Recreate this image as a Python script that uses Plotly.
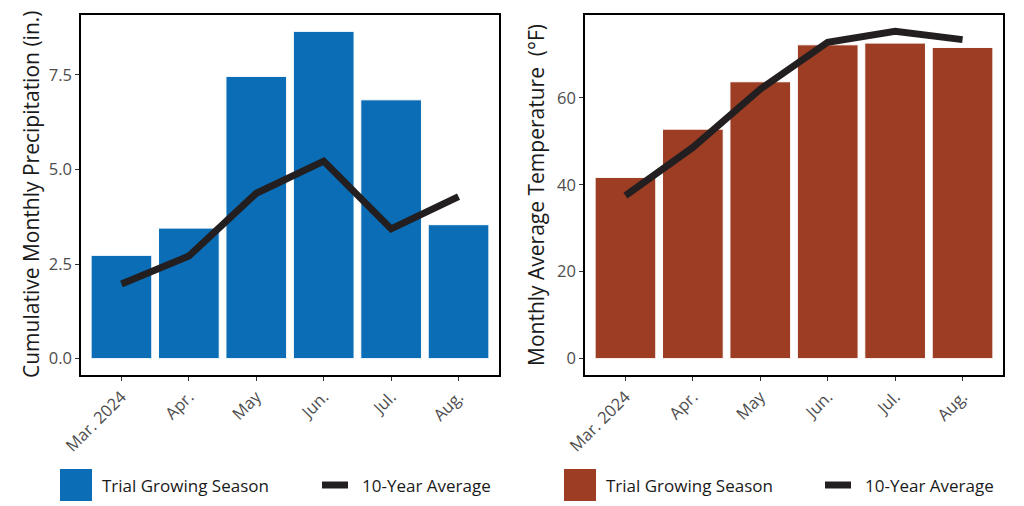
import plotly.graph_objects as go

months = ["Mar. 2024", "Apr.", "May", "Jun.", "Jul.", "Aug."]
precip_trial = [2.73, 3.45, 7.46, 8.65, 6.84, 3.54]
precip_avg = [1.97, 2.71, 4.37, 5.22, 3.43, 4.28]
temp_trial = [41.7, 52.8, 63.7, 72.2, 72.6, 71.6]
temp_avg = [37.5, 48.6, 62.0, 72.8, 75.3, 73.4]

precip_ticks = [0.0, 2.5, 5.0, 7.5]
precip_ticktext = ["0.0", "2.5", "5.0", "7.5"]
temp_ticks = [0, 20, 40, 60]

BLUE = "#0a6db5"
RED = "#9c3d24"
LINE = "#231f20"
FONT = "Open Sans"

fig = go.Figure()

fig.add_trace(go.Bar(x=months, y=precip_trial, marker=dict(color=BLUE, line=dict(color="white", width=1)),
                     xaxis="x", yaxis="y", showlegend=False, name="Trial Growing Season"))
fig.add_trace(go.Scatter(x=months, y=precip_avg, mode="lines", line=dict(color=LINE, width=7),
                         xaxis="x", yaxis="y", showlegend=False, name="10-Year Average"))
fig.add_trace(go.Bar(x=months, y=temp_trial, marker=dict(color=RED, line=dict(color="white", width=1)),
                     xaxis="x2", yaxis="y2", showlegend=False, name="Trial Growing Season"))
fig.add_trace(go.Scatter(x=months, y=temp_avg, mode="lines", line=dict(color=LINE, width=7),
                         xaxis="x2", yaxis="y2", showlegend=False, name="10-Year Average"))

ydom = [(506 - 375) / 506, (506 - 15) / 506]
axis_common = dict(showline=True, linecolor="black", linewidth=1.5, mirror=True, ticks="outside",
                   ticklen=4, tickcolor="#333333", tickwidth=1, showgrid=False, zeroline=False,
                   automargin=False,
                   tickfont=dict(family=FONT, size=16.5, color="#4d4d4d"))

pmax = max(max(precip_trial), max(precip_avg))
tmax = max(max(temp_trial), max(temp_avg))

fig.update_layout(
    width=1024, height=506, margin=dict(l=0, r=0, t=0, b=0),
    paper_bgcolor="white", plot_bgcolor="white",
    bargap=0.1,
    font=dict(family=FONT),
    xaxis=dict(domain=[81 / 1024, 499 / 1024], anchor="y", range=[-0.6, 5.6], tickangle=-45, **axis_common),
    yaxis=dict(domain=ydom, anchor="x", range=[-0.05 * pmax, 1.05 * pmax], tickvals=precip_ticks,
               ticktext=precip_ticktext, **axis_common),
    xaxis2=dict(domain=[585 / 1024, 1003 / 1024], anchor="y2", range=[-0.6, 5.6], tickangle=-45, **axis_common),
    yaxis2=dict(domain=ydom, anchor="x2", range=[-0.05 * tmax, 1.05 * tmax], tickvals=temp_ticks, **axis_common),
)

ycenter = (ydom[0] + ydom[1]) / 2
fig.add_annotation(text="Cumulative Monthly Precipitation (in.)", textangle=-90, x=31 / 1024, y=ycenter,
                   xref="paper", yref="paper", showarrow=False, xanchor="center", yanchor="middle",
                   font=dict(family=FONT, size=21, color="#1a1a1a"))
fig.add_annotation(text="Monthly Average Temperature  (°F)", textangle=-90, x=536 / 1024, y=ycenter,
                   xref="paper", yref="paper", showarrow=False, xanchor="center", yanchor="middle",
                   font=dict(family=FONT, size=21, color="#1a1a1a"))

# Legends (drawn manually to match legend key sizes)
def legend(x_sq, color, x_txt1, x_line, x_txt2):
    fig.add_shape(type="rect", xref="paper", yref="paper", x0=x_sq / 1024, x1=(x_sq + 32) / 1024,
                  y0=(506 - 501) / 506, y1=(506 - 469) / 506, fillcolor=color, line=dict(width=0))
    fig.add_annotation(text="Trial Growing Season", x=x_txt1 / 1024, y=(506 - 485) / 506, xref="paper", yref="paper",
                       showarrow=False, xanchor="left", yanchor="middle",
                       font=dict(family=FONT, size=17, color="#1a1a1a"))
    fig.add_shape(type="line", xref="paper", yref="paper", x0=x_line / 1024, x1=(x_line + 26) / 1024,
                  y0=(506 - 485) / 506, y1=(506 - 485) / 506, line=dict(color=LINE, width=7))
    fig.add_annotation(text="10-Year Average", x=x_txt2 / 1024, y=(506 - 485) / 506, xref="paper", yref="paper",
                       showarrow=False, xanchor="left", yanchor="middle",
                       font=dict(family=FONT, size=17, color="#1a1a1a"))

legend(60, BLUE, 100, 322, 360)
legend(564, RED, 604, 825, 863)

fig.write_html("out.html")
